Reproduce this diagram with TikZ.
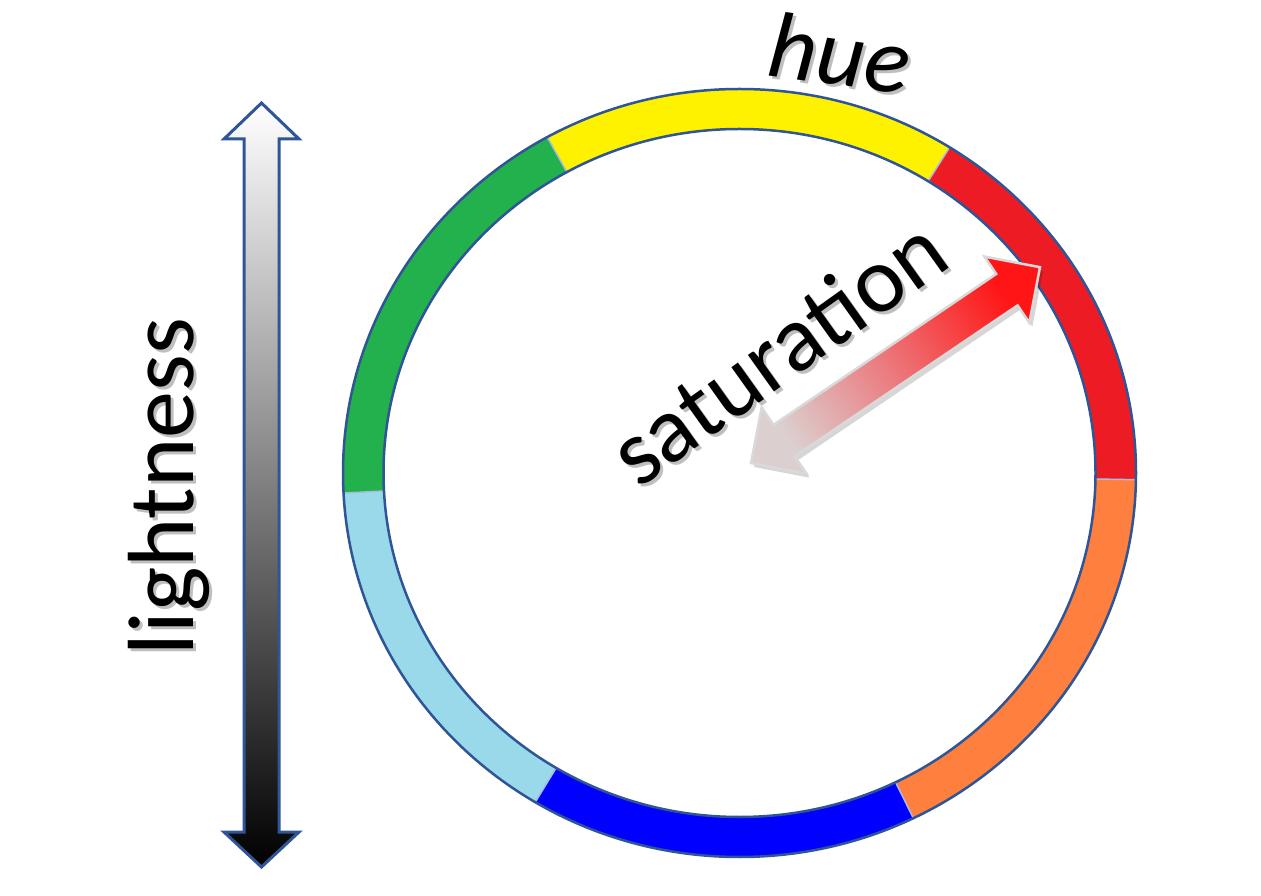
\documentclass[tikz,border=0pt]{standalone}
\usepackage{fontspec}
\setmainfont{Carlito}
\usetikzlibrary{calc}
\definecolor{ringline}{HTML}{2F5597}
\definecolor{hred}{HTML}{ED1C24}
\definecolor{hyellow}{HTML}{FFF200}
\definecolor{hgreen}{HTML}{22B14C}
\definecolor{hlblue}{HTML}{99D9EA}
\definecolor{hblue}{HTML}{0000FF}
\definecolor{horange}{HTML}{FF7F3F}
\definecolor{satgray}{HTML}{DCCFCF}
\definecolor{satmid}{HTML}{EC7478}
\definecolor{satred}{HTML}{FF1515}
\definecolor{satedge}{HTML}{D9D9D9}
\definecolor{seam}{HTML}{A9BCE0}
\newcommand\rox{396.5}
\newcommand\roy{384}
\newcommand\rix{356}
\newcommand\riy{344}
\newcommand\hueseg[3]{%
  \fill[#1] ($(c)+(#2:\rox pt and \roy pt)$)
    arc[start angle=#2, end angle=#3, x radius=\rox pt, y radius=\roy pt]
    -- ($(c)+(#3:\rix pt and \riy pt)$)
    arc[start angle=#3, end angle=#2, x radius=\rix pt, y radius=\riy pt] -- cycle;}
\newcommand\hueseam[1]{%
  \draw[seam, line width=1.5pt] ($(c)+(#1:\rix pt and \riy pt)$) -- ($(c)+(#1:\rox pt and \roy pt)$);}
\begin{document}
\begin{tikzpicture}[x=1pt,y=1pt,
  bigtext/.style={font=\fontsize{94}{94}\selectfont, inner sep=0pt, anchor=base},
  shadowtext/.style={bigtext, text=black, text opacity=0.25},
  ringedge/.style={draw=ringline, line width=2.5pt},
  lightarrow/.style={draw=ringline, line width=3pt, line join=miter, top color=white, bottom color=black},
  satarrow/.style={draw=satedge, line width=2.5pt, line join=miter, top color=satred, bottom color=satgray, middle color=satmid, shading angle=-55.9},
  satshadow/.style={fill=black, fill opacity=0.16}
  ]
\useasboundingbox (0,0) rectangle (1261,895);
\fill[white] (0,0) rectangle (1261,895);
\coordinate (c) at (739.5,422);
% hue ring segments
\hueseg{hred}{-1}{58}
\hueseg{hyellow}{58}{119}
\hueseg{hgreen}{119}{183}
\hueseg{hlblue}{183}{239}
\hueseg{hblue}{239}{296}
\hueseg{horange}{296}{359}
\hueseam{-1}\hueseam{58}\hueseam{119}\hueseam{183}\hueseam{239}\hueseam{296}
\draw[ringedge] (c) ellipse [x radius=\rox pt, y radius=\roy pt];
\draw[ringedge] (c) ellipse [x radius=\rix pt, y radius=\riy pt];
% lightness arrow
\path[lightarrow] (261.5,792) -- (299,756) -- (279,756) -- (279,63) -- (299,63)
  -- (261.5,28) -- (224,63) -- (244,63) -- (244,756) -- (224,756) -- cycle;
% saturation arrow
\begin{scope}[shift={(3,-4)}]
\fill[satshadow] (751,432) -- (761.7,487.5) -- (773.4,470.1) -- (996.2,621.0) -- (984.5,638.4)
  -- (1040,627.8) -- (1029.3,572.2) -- (1017.6,589.6) -- (794.8,438.7) -- (806.5,421.3) -- cycle;
\end{scope}
\path[satarrow] (751,432) -- (761.7,487.5) -- (773.4,470.1) -- (996.2,621.0) -- (984.5,638.4)
  -- (1040,627.8) -- (1029.3,572.2) -- (1017.6,589.6) -- (794.8,438.7) -- (806.5,421.3) -- cycle;
% labels (soft drop shadow, then text)
\node[shadowtext, rotate=90] at (196,405.5) {lightness};
\node[bigtext, rotate=90] (lightlbl) at (193,408.5) {lightness};
\node[shadowtext, rotate=35.5] at (799,515) {saturation};
\node[bigtext, rotate=35.5] (satlbl) at (796,518) {saturation};
\node[shadowtext, rotate=-8, font=\fontsize{94}{94}\selectfont\itshape] at (839,807) {hue};
\node[bigtext, rotate=-8, font=\fontsize{94}{94}\selectfont\itshape] (huelbl) at (836,810) {hue};
\end{tikzpicture}
\end{document}
